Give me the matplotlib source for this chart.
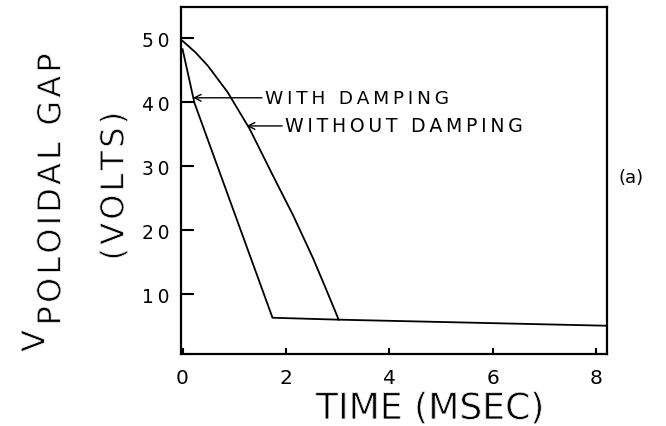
import matplotlib
matplotlib.use("Agg")
import matplotlib.pyplot as plt
import matplotlib.patheffects as pe

# Gap voltage traces (time in ms, volts)
t_with = [0.0, 0.23, 1.74, 3.02, 8.21]
v_with = [48.3, 39.9, 6.3, 6.0, 5.05]
t_without = [0.0, 0.25, 0.49, 0.87, 1.30, 1.75, 2.14, 2.53, 2.79, 3.02]
v_without = [49.6, 47.8, 45.7, 41.6, 35.8, 28.5, 22.3, 15.5, 10.5, 6.0]

x_ticks = [0, 2, 4, 6, 8]
y_ticks = [10, 20, 30, 40, 50]

TS = "\u2009"  # thin space used to open up the lettering
HS = "\u200a"  # hair space for the large titles


def spaced(s, sep=TS):
    return sep.join(s)


plt.rcParams["font.family"] = ["DejaVu Sans"]

# large titles: regular glyphs with a white outline pass to slim the strokes
slim = [pe.Normal(), pe.Stroke(linewidth=0.6, foreground="white")]

W, H = 666, 427
fig = plt.figure(figsize=(W / 100, H / 100), dpi=100)
ax = fig.add_axes([181 / W, 1 - 355 / H, (607 - 181) / W, (355 - 8) / H])

ax.plot(t_with, v_with, color="black", lw=1.3, solid_joinstyle="miter")
ax.plot(t_without, v_without, color="black", lw=1.3, solid_joinstyle="miter")

ax.set_xlim(-0.03, 8.21)
ax.set_ylim(0.63, 54.9)

ax.set_xticks(x_ticks)
ax.set_xticklabels([str(v) for v in x_ticks])
ax.set_yticks(y_ticks)
ax.set_yticklabels([spaced(str(v)) for v in y_ticks])

ax.tick_params(axis="y", direction="in", length=9.5, width=1.5, pad=8,
               labelsize=13.5)
ax.tick_params(axis="x", direction="in", length=4.5, width=1.5, pad=10,
               labelsize=14.5)
for sp in ax.spines.values():
    sp.set_linewidth(1.6)

arrow = dict(arrowstyle="->", lw=1.0, color="black", shrinkA=0, shrinkB=0,
             relpos=(0.0, 0.5), mutation_scale=12)
ax.annotate(spaced("WITH DAMPING"), xy=(0.20, 40.7), xytext=(1.59, 40.7),
            ha="left", va="center", fontsize=13.3, arrowprops=arrow)
ax.annotate(spaced("WITHOUT DAMPING"), xy=(1.24, 36.3), xytext=(1.98, 36.3),
            ha="left", va="center", fontsize=13.6, arrowprops=arrow)

# Axis titles
fig.text(430 / W, 1 - 420 / H, "TIME (MSEC)", ha="center", va="baseline",
         fontsize=26, path_effects=slim)
fig.text(36 / W, 1 - 342 / H, "V", rotation=90, ha="center", va="center",
         fontsize=23, path_effects=slim)
fig.text(52 / W, 1 - 190 / H, spaced("POLOIDAL GAP", HS), rotation=90,
         ha="center", va="center", fontsize=23, path_effects=slim)
fig.text(115 / W, 1 - 187 / H, spaced("(VOLTS)", HS), rotation=90,
         ha="center", va="center", fontsize=23, path_effects=slim)
fig.text(631 / W, 1 - 178 / H, "(a)", ha="center", va="center", fontsize=13)

fig.savefig("out.png", dpi=100)
